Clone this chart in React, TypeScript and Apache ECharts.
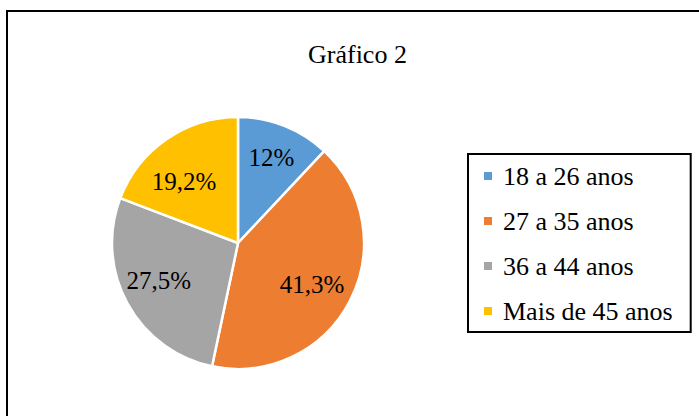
import React, { useEffect, useRef } from "react";
import * as echarts from "echarts";

const categories = ["18 a 26 anos", "27 a 35 anos", "36 a 44 anos", "Mais de 45 anos"];
const values = [12, 41.3, 27.5, 19.2];
const labels = ["12%", "41,3%", "27,5%", "19,2%"];
const colors = ["#5B9BD5", "#ED7D31", "#A5A5A5", "#FFC000"];
const titleText = "Gráfico 2";
// small nudges of each inside label, as Excel places them
const labelNudges = [[1, -4], [-4, 1], [-2, -5], [-4, 11]];

const FONT = "Liberation Serif";

export default function App() {
  const ref = useRef<HTMLDivElement>(null);
  useEffect(() => {
    if (!ref.current) return;
    const chart = echarts.init(ref.current, undefined, { renderer: "svg" });
    const data = categories.map((name, i) => ({
      name,
      value: values[i],
      itemStyle: { color: colors[i] },
    }));
    const labelData = categories.map((name, i) => ({
      name,
      value: values[i],
      label: { formatter: labels[i], offset: labelNudges[i] },
    }));
    chart.setOption({
      animation: false,
      backgroundColor: "#ffffff",
      textStyle: { fontFamily: FONT },
      title: {
        text: titleText,
        left: 308,
        top: 41,
        padding: 0,
        textStyle: { fontFamily: FONT, fontSize: 26, fontWeight: "normal", color: "#000" },
      },
      graphic: [
        {
          type: "rect",
          shape: { x: 7, y: 11, width: 800, height: 500 },
          style: { fill: "none", stroke: "#000", lineWidth: 2 },
          silent: true,
          z: -10,
        },
      ],
      legend: {
        orient: "vertical",
        left: 468,
        top: 154,
        padding: [9, 18, 8, 14],
        borderColor: "#000",
        borderWidth: 2,
        itemGap: 19,
        itemWidth: 10,
        itemHeight: 10,
        icon: "rect",
        data: categories,
        textStyle: { fontFamily: FONT, fontSize: 26, color: "#000", padding: [0, 0, 0, 5] },
      },
      series: [
        {
          type: "pie",
          center: [238, 243],
          radius: [0, 126],
          startAngle: 90,
          clockwise: true,
          data,
          label: { show: false },
          labelLine: { show: false },
          itemStyle: { borderColor: "#fff", borderWidth: 2.5 },
          emphasis: { disabled: true },
        },
        {
          type: "pie",
          center: [238, 243],
          radius: [44, 126],
          startAngle: 90,
          clockwise: true,
          silent: true,
          data: labelData,
          itemStyle: { color: "rgba(0,0,0,0)" },
          label: {
            show: true,
            position: "inside",
            fontFamily: FONT,
            fontSize: 25,
            color: "#000",
          },
          labelLine: { show: false },
          emphasis: { disabled: true },
          z: 5,
        },
      ],
    });
    return () => chart.dispose();
  }, []);
  return (
    <div
      ref={ref}
      style={{ position: "absolute", left: 0, top: 0, width: 699, height: 416 }}
    />
  );
}
